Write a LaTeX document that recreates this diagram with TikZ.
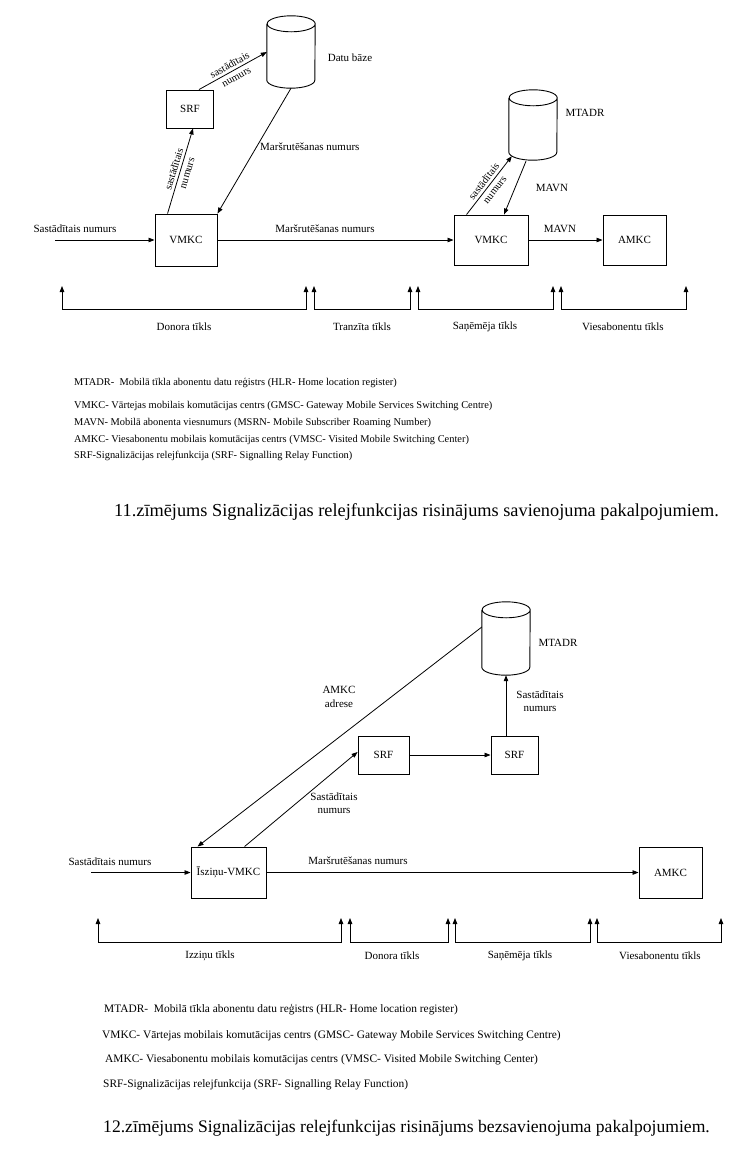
\documentclass[tikz,border=0pt]{standalone}
\usepackage{fontspec}
\setmainfont{Liberation Serif}
\usetikzlibrary{arrows.meta}
\newcommand\drawcyl[1]{\draw[line width=0.9pt] ([yshift=-8pt]#1.north west) -- ([yshift=8pt]#1.south west) arc[start angle=180,end angle=360,x radius=24pt,y radius=8pt] -- ([yshift=-8pt]#1.north east) arc[start angle=0,end angle=360,x radius=24pt,y radius=8pt];}
\begin{document}
\begin{tikzpicture}[x=1pt,y=-1pt,
  box/.style={draw, line width=0.9pt, inner sep=0pt, font=\fontsize{11}{13}\selectfont},
  lbl/.style={inner sep=0pt, font=\fontsize{11}{13.5}\selectfont, align=center},
  slbl/.style={inner sep=1pt, font=\fontsize{10.5}{13.5}\selectfont, align=center, sloped},
  con/.style={line width=0.8pt, -{Triangle[length=6pt,width=4.5pt]}},
  brk/.style={line width=0.8pt, {Triangle[length=6pt,width=4.5pt]}-{Triangle[length=6pt,width=4.5pt]}},
  leg/.style={anchor=west, inner sep=0pt, font=\fontsize{10.4}{12}\selectfont},
  legb/.style={anchor=west, inner sep=0pt, font=\fontsize{11.4}{13}\selectfont},
  capt/.style={anchor=west, inner sep=0pt, font=\fontsize{18.3}{20}\selectfont},
  captb/.style={anchor=west, inner sep=0pt, font=\fontsize{17.6}{20}\selectfont},
  cyl/.style={inner sep=0pt, minimum width=48pt}
]
\useasboundingbox[fill=white] (0,0) rectangle (750,1154);

% ---------- top diagram ----------
\node[cyl, minimum height=72pt] (db) at (291,52) {};
\drawcyl{db}
\node[lbl] (dbl) at (350,58) {Datu bāze};
\node[box, minimum width=47pt, minimum height=38pt] (srf1) at (190,109) {SRF};
\node[box, minimum width=62pt, minimum height=52pt] (v1) at (186,240) {VMKC};
\node[box, minimum width=74pt, minimum height=50pt] (v2) at (491,240) {VMKC};
\node[box, minimum width=63pt, minimum height=50pt] (a1) at (634.5,240) {AMKC};
\node[cyl, minimum height=70pt] (mt1) at (533,125) {};
\drawcyl{mt1}
\node[lbl] (mt1l) at (585,113) {MTADR};

\coordinate (in1) at (55,240);
\draw[con] (in1) -- (v1.west);
\node[lbl] (in1l) at (75,229) {Sastādītais numurs};
\draw[con] ([xshift=13pt]v1.north west) -- node[slbl]{sastādītais\\numurs} ([xshift=3pt]srf1.south);
\draw[con] ([xshift=9pt]srf1.north) -- node[slbl]{sastādītais\\numurs} (db.west);
\draw[con] (db.south) -- (v1.north east);
\node[lbl, anchor=west] (mrn1) at (260,147) {Maršrutēšanas numurs};
\draw[con] (v1.east) -- (v2.west);
\node[lbl] (mrn2) at (325,229) {Maršrutēšanas numurs};
\draw[con] ([xshift=13pt]v2.north west) -- node[slbl]{sastādītais\\numurs} ([xshift=3pt,yshift=4pt]mt1.south west);
\draw[con] ([xshift=-7pt,yshift=-1pt]mt1.south) -- ([xshift=13pt]v2.north);
\node[lbl] (mavn1) at (552,188) {MAVN};
\draw[con] (v2.east) -- (a1.west);
\node[lbl] (mavn2) at (560,229) {MAVN};

\foreach \a/\b in {62/306, 314/410, 418/553, 561/686}
  \draw[brk] (\a,286) |- (\b,309) -- (\b,286);
\node[lbl] at (184,327) {Donora tīkls};
\node[lbl] at (362,327) {Tranzīta tīkls};
\node[lbl] at (485,327) {Saņēmēja tīkls};
\node[lbl] at (623,327) {Viesabonentu tīkls};

\node[leg] at (74,383) {MTADR-\ \ Mobilā tīkla abonentu datu reģistrs (HLR- Home location register)};
\node[leg] at (74,406) {VMKC- Vārtejas mobilais komutācijas centrs (GMSC- Gateway Mobile Services Switching Centre)};
\node[leg] at (74,423) {MAVN- Mobilā abonenta viesnumurs (MSRN- Mobile Subscriber Roaming Number)};
\node[leg] at (74,440) {AMKC- Viesabonentu mobilais komutācijas centrs (VMSC- Visited Mobile Switching Center)};
\node[leg] at (74,456) {SRF-Signalizācijas relejfunkcija (SRF- Signalling Relay Function)};

\node[capt] at (114,512) {11.zīmējums Signalizācijas relejfunkcijas risinājums savienojuma pakalpojumiem.};

% ---------- bottom diagram ----------
\node[cyl, minimum height=73pt] (mt2) at (506,638.5) {};
\drawcyl{mt2}
\node[lbl] (mt2l) at (558,643) {MTADR};
\node[box, minimum width=51pt, minimum height=38pt] (s2a) at (383.5,755) {SRF};
\node[box, minimum width=47pt, minimum height=38pt] (s2b) at (514.5,755) {SRF};
\node[box, minimum width=75pt, minimum height=51pt] (vi) at (228.5,872.5) {Īsziņu-VMKC};
\node[box, minimum width=63pt, minimum height=51pt] (a2) at (670.5,872.5) {AMKC};

\draw[con] (mt2.south |- s2b.north) -- (mt2.south);
\node[lbl] (sn3) at (540,701) {Sastādītais\\numurs};
\draw[con] ([yshift=11.5pt]mt2.west) -- ([xshift=7pt]vi.north west);
\node[lbl] (adr) at (339,697) {AMKC\\adrese};
\draw[con] ([xshift=54pt]vi.north west) -- ([yshift=3pt]s2a.west);
\node[lbl] (sn4) at (334,803) {Sastādītais\\numurs};
\draw[con] (s2a.east) -- (s2b.west);
\coordinate (in2) at (91,872.5);
\draw[con] (in2) -- (vi.west);
\node[lbl] (in2l) at (110,862) {Sastādītais numurs};
\draw[con] (vi.east) -- (a2.west);
\node[lbl] (mrn3) at (358,861) {Maršrutēšanas numurs};

\foreach \a/\b in {98/341, 350/448, 455/590, 597/721}
  \draw[brk] (\a,918) |- (\b,942) -- (\b,918);
\node[lbl] at (210,956) {Izziņu tīkls};
\node[lbl] at (392,956) {Donora tīkls};
\node[lbl] at (520,956) {Saņēmēja tīkls};
\node[lbl] at (660,956) {Viesabonentu tīkls};

\node[legb] at (104,1010) {MTADR-\ \ Mobilā tīkla abonentu datu reģistrs (HLR- Home location register)};
\node[legb] at (102,1036) {VMKC- Vārtejas mobilais komutācijas centrs (GMSC- Gateway Mobile Services Switching Centre)};
\node[legb] at (105,1060) {AMKC- Viesabonentu mobilais komutācijas centrs (VMSC- Visited Mobile Switching Center)};
\node[legb] at (103,1085) {SRF-Signalizācijas relejfunkcija (SRF- Signalling Relay Function)};

\node[captb] at (103,1128) {12.zīmējums Signalizācijas relejfunkcijas risinājums bezsavienojuma pakalpojumiem.};
\end{tikzpicture}
\end{document}
